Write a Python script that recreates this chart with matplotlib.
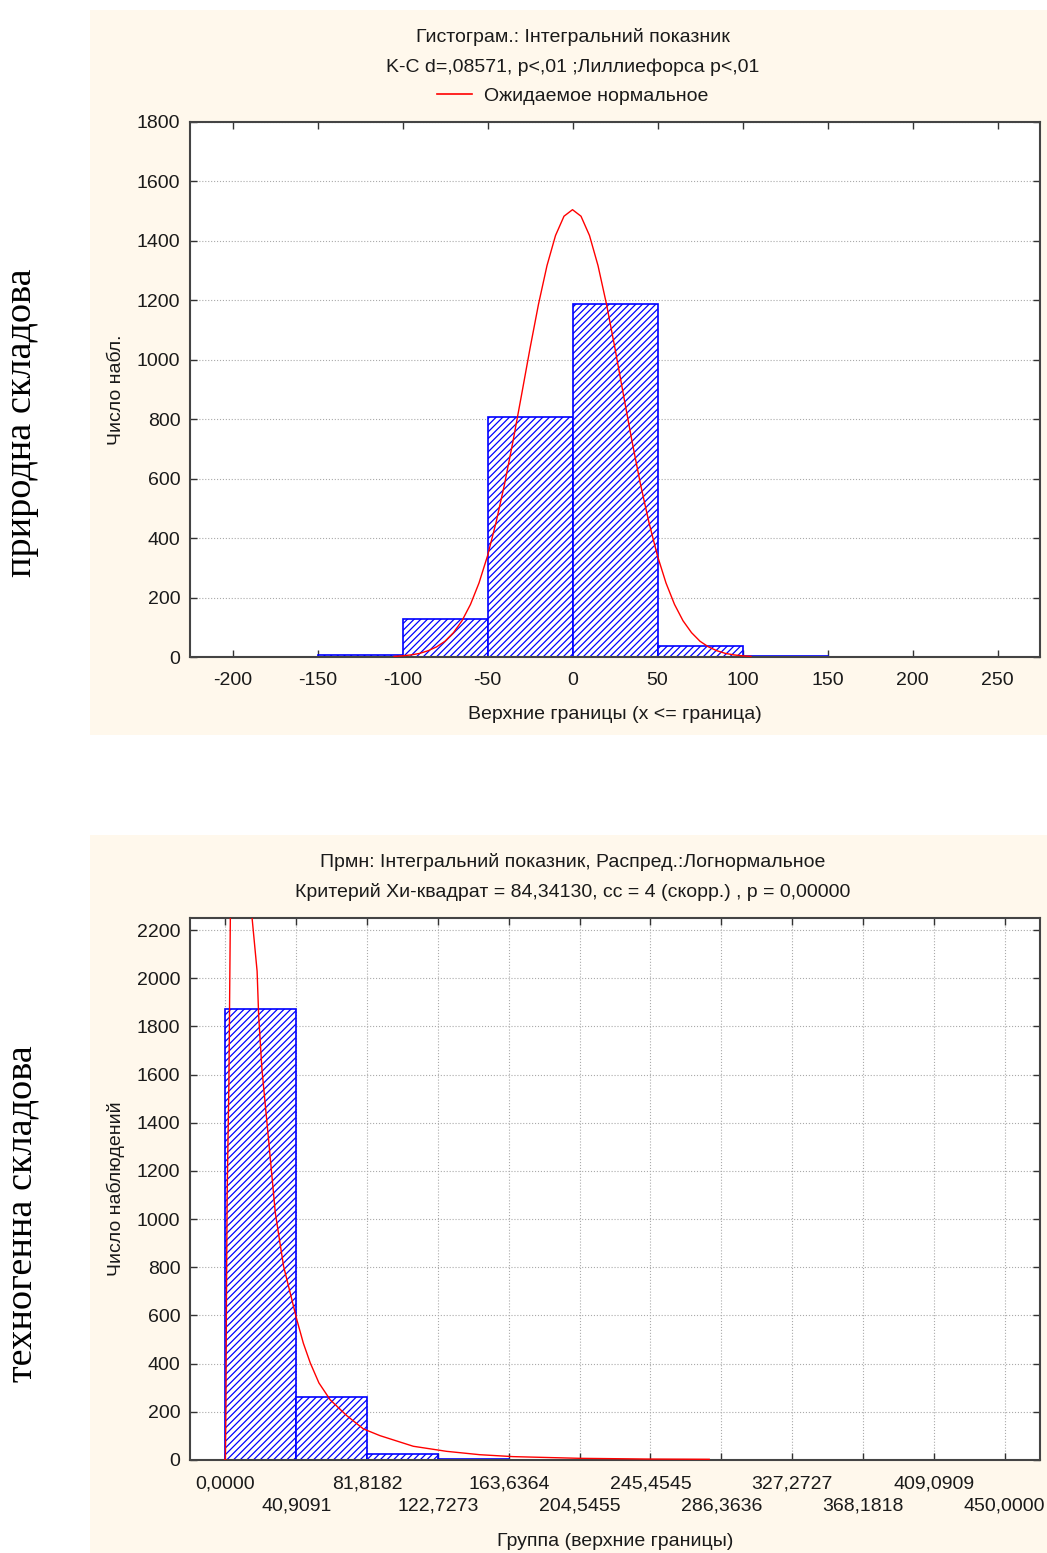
import matplotlib
matplotlib.use("Agg")
import matplotlib.pyplot as plt
from matplotlib.patches import Rectangle
from matplotlib.lines import Line2D

plt.rcParams['font.family'] = ['Liberation Sans', 'DejaVu Sans']
plt.rcParams['axes.unicode_minus'] = False
plt.rcParams['hatch.linewidth'] = 0.9

# --- top histogram: natural component ---
top_left_edges = [-150, -100, -50, 0, 50, 100]
top_counts = [8, 127, 809, 1187, 38, 3]
top_bin_width = 50
# expected normal curve
norm_x = [-105, -100, -95, -90, -85, -80, -75, -70, -65, -60, -55, -50, -45, -40, -35, -30,
          -25, -20, -15, -10, -5, 0, 5, 10, 15, 20, 25, 30, 35, 40, 45, 50, 55, 60, 65,
          70, 75, 80, 85, 90, 95, 100, 105]
norm_y = [2, 4, 7, 12, 21, 34, 53, 82, 122, 177, 249, 340, 452, 581, 726, 881,
          1038, 1187, 1317, 1418, 1483, 1505, 1483, 1418, 1317, 1187, 1038, 881, 726, 581, 452,
          340, 249, 177, 122, 82, 53, 34, 21, 12, 7, 4, 2]
top_xticks = [-200, -150, -100, -50, 0, 50, 100, 150, 200, 250]
top_yticks = [0, 200, 400, 600, 800, 1000, 1200, 1400, 1600, 1800]

# --- bottom histogram: technogenic component ---
bot_left_edges = [0.0, 40.9091, 81.8182, 122.7273]
bot_counts = [1874, 262, 25, 4]
bot_bin_width = 40.9091
logn_x = [-0.5, 0.0, 0.3, 0.6, 1.0, 2.0, 2.9, 4.0, 6.0, 9.0, 12.0, 15.4, 18.3, 19.2, 21.1,
          25.0, 28.8, 33.6, 41.3, 45.0, 49.0, 54.0, 60.5, 70.1, 79.7, 89.3, 108.5, 127.7, 146.9,
          166.1, 204.5, 243.0, 279.4]
logn_y = [0, 0, 230, 680, 1100, 1560, 2300, 2700, 3000, 2900, 2600, 2250, 2029, 1844, 1621,
          1324, 1027, 804, 581, 485, 403, 320, 250, 184, 129, 101, 57, 36, 22, 14, 7, 4, 3]
bot_xticks = [0.0, 40.9091, 81.8182, 122.7273, 163.6364, 204.5455, 245.4545,
              286.3636, 327.2727, 368.1818, 409.0909, 450.0]
bot_yticks = [0, 200, 400, 600, 800, 1000, 1200, 1400, 1600, 1800, 2000, 2200]

W, H = 1047, 1553
fig = plt.figure(figsize=(W / 100, H / 100), dpi=100)
fig.patch.set_facecolor('white')

panel = '#fff8ec'
fig.patches.append(Rectangle((90 / W, 1 - 735 / H), 957 / W, 725 / H,
                             transform=fig.transFigure, facecolor=panel, edgecolor='none', zorder=-10))
fig.patches.append(Rectangle((90 / W, 0), 957 / W, 1 - 835 / H,
                             transform=fig.transFigure, facecolor=panel, edgecolor='none', zorder=-10))

txt = '#1a1a1a'
fs = 14


def style_axes(ax):
    ax.set_facecolor('white')
    for s in ax.spines.values():
        s.set_color('#444444')
        s.set_linewidth(1.5)
    ax.tick_params(which='both', direction='in', length=5, width=1, top=True, right=True,
                   labelsize=fs, labelcolor=txt, color='#333333')
    ax.tick_params(axis='x', pad=11)
    ax.tick_params(axis='y', pad=7)


# top chart
ax1 = fig.add_axes([190 / W, 1 - 657 / H, 850 / W, 535 / H])
style_axes(ax1)
ax1.bar(top_left_edges, top_counts, width=top_bin_width, align='edge',
        facecolor='white', edgecolor='#0000ff', hatch='/////', linewidth=1.2, zorder=2)
ax1.plot(norm_x, norm_y, color='red', lw=1, zorder=3)
ax1.set_xlim(-225, 275)
ax1.set_ylim(0, 1800)
ax1.set_xticks(top_xticks)
ax1.set_yticks(top_yticks)
ax1.yaxis.grid(True, linestyle=':', color='#aaaaaa', lw=0.8)
ax1.set_axisbelow(True)
ax1.set_xlabel('Верхние границы (x <= граница)', fontsize=fs, color=txt)
ax1.xaxis.set_label_coords(0.5, -0.092)
ax1.set_ylabel('Число набл.', fontsize=fs, color=txt)
ax1.yaxis.set_label_coords(-0.077, 0.5)

fig.text(573 / W, 1 - 37 / H, 'Гистограм.: Інтегральний показник', ha='center', va='center',
         fontsize=fs, color=txt)
fig.text(573 / W, 1 - 67 / H, 'K-C d=,08571, p<,01 ;Лиллиефорса p<,01', ha='center', va='center',
         fontsize=fs, color=txt)
fig.legend(handles=[Line2D([], [], color='red', lw=1.2)], labels=['Ожидаемое нормальное'],
           loc='center', bbox_to_anchor=(573 / W, 1 - 96 / H), frameon=False,
           fontsize=fs, handlelength=1.8, handletextpad=0.6, labelcolor=txt)

# bottom chart
ax2 = fig.add_axes([190 / W, 1 - 1460 / H, 850 / W, 542 / H])
style_axes(ax2)
ax2.bar(bot_left_edges, bot_counts, width=bot_bin_width, align='edge',
        facecolor='white', edgecolor='#0000ff', hatch='/////', linewidth=1.2, zorder=2)
ax2.plot(logn_x, logn_y, color='red', lw=1, zorder=3)
ax2.set_xlim(-20.4545, 470.4545)
ax2.set_ylim(0, 2250)
# staggered tick labels: even ticks on the first row, odd ticks on the second row
lbl = [f'{v:.4f}'.replace('.', ',') for v in bot_xticks]
ax2.set_xticks(bot_xticks[0::2])
ax2.set_xticklabels(lbl[0::2])
ax2.set_xticks(bot_xticks[1::2], minor=True)
ax2.set_xticklabels(lbl[1::2], minor=True)
ax2.tick_params(axis='x', which='minor', pad=27)
ax2.set_yticks(bot_yticks)
ax2.grid(True, which='both', linestyle=':', color='#aaaaaa', lw=0.8)
ax2.set_axisbelow(True)
ax2.set_xlabel('Группа (верхние границы)', fontsize=fs, color=txt)
ax2.xaxis.set_label_coords(0.5, -0.135)
ax2.set_ylabel('Число наблюдений', fontsize=fs, color=txt)
ax2.yaxis.set_label_coords(-0.077, 0.5)

fig.text(573 / W, 1 - 862 / H, 'Прмн: Інтегральний показник, Распред.:Логнормальное',
         ha='center', va='center', fontsize=fs, color=txt)
fig.text(573 / W, 1 - 892 / H, 'Критерий Хи-квадрат = 84,34130, сс = 4 (скорр.) , p = 0,00000',
         ha='center', va='center', fontsize=fs, color=txt)

# side captions
fig.text(22 / W, 1 - 423 / H, 'природна складова', rotation=90, ha='center', va='center',
         fontsize=27.5, family=['Liberation Serif', 'DejaVu Serif'], color='black')
fig.text(22 / W, 1 - 1214 / H, 'техногенна складова', rotation=90, ha='center', va='center',
         fontsize=27.5, family=['Liberation Serif', 'DejaVu Serif'], color='black')

fig.savefig('out.png', dpi=100)
